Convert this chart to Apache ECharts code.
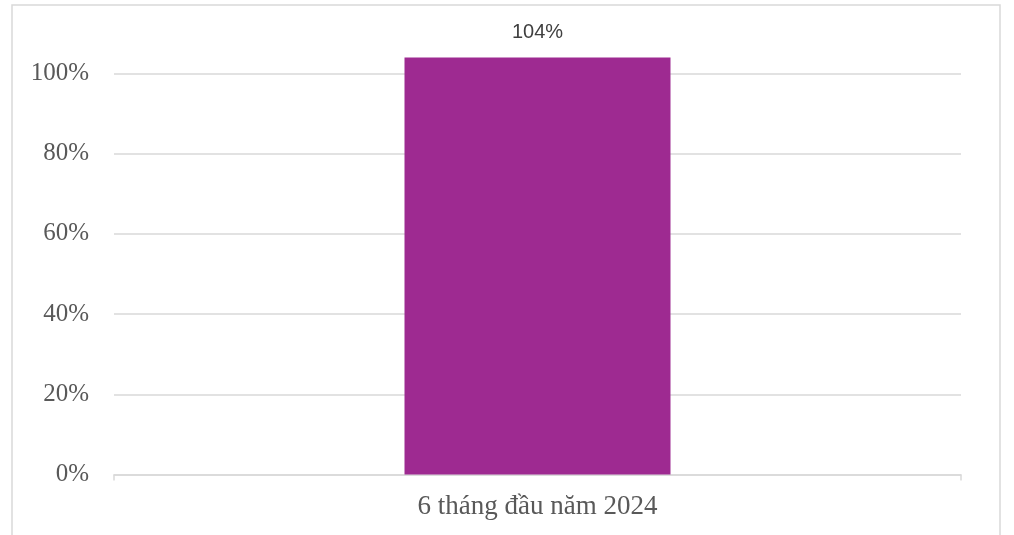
<!DOCTYPE html>
<html>
<head>
<meta charset="utf-8">
<script src="https://cdn.jsdelivr.net/npm/echarts@6/dist/echarts.min.js"></script>
<style>
html,body{margin:0;padding:0;background:#fff;}
#chart{width:1014px;height:535px;}
</style>
</head>
<body>
<div id="chart"></div>
<script>
const categories = ["6 tháng đầu năm 2024"];
const values = [104];
const yTicks = [0, 20, 40, 60, 80, 100];

const chart = echarts.init(document.getElementById('chart'), null, {renderer: 'canvas'});
chart.setOption({
  animation: false,
  backgroundColor: '#ffffff',
  graphic: [{
    type: 'rect',
    shape: {x: 12, y: 5, width: 988, height: 560},
    style: {fill: 'none', stroke: '#d9d9d9', lineWidth: 1.5},
    silent: true,
    z: 100
  }],
  grid: {left: 114, right: 53, top: 73.5, bottom: 60.5, containLabel: false},
  xAxis: {
    type: 'category',
    data: categories,
    boundaryGap: true,
    axisLine: {show: true, lineStyle: {color: '#d9d9d9', width: 1.5}},
    axisTick: {show: true, length: 6, alignWithLabel: false, lineStyle: {color: '#d9d9d9', width: 1.5}},
    axisLabel: {color: '#595959', fontFamily: '"Liberation Serif", "Times New Roman", serif', fontSize: 27, margin: 19}
  },
  yAxis: {
    type: 'value',
    min: yTicks[0],
    max: yTicks[yTicks.length - 1],
    interval: 20,
    axisLine: {show: false},
    axisTick: {show: false},
    splitLine: {lineStyle: {color: '#d9d9d9', width: 1.5}},
    axisLabel: {color: '#595959', fontFamily: '"Liberation Serif", "Times New Roman", serif', fontSize: 25, margin: 25, formatter: '{value}%'}
  },
  series: [{
    type: 'bar',
    data: values,
    barWidth: 266,
    clip: false,
    itemStyle: {color: '#9e2a91'},
    label: {
      show: true,
      position: 'top',
      distance: 15,
      formatter: '{c}%',
      color: '#404040',
      fontFamily: '"Liberation Sans", Arial, sans-serif',
      fontSize: 20
    }
  }]
});
</script>
</body>
</html>
